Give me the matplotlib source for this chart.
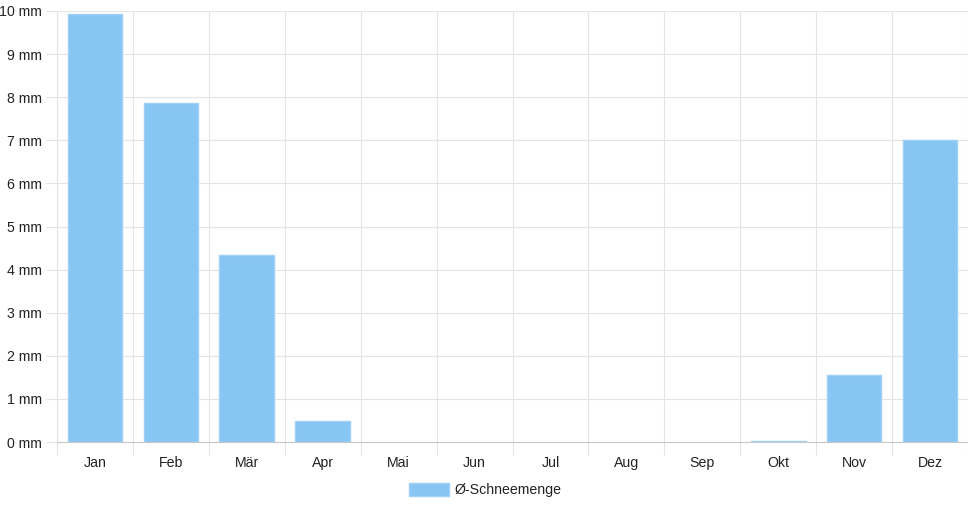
import numpy as np
import matplotlib
matplotlib.use('Agg')
import matplotlib.pyplot as plt
from matplotlib.ticker import FixedLocator

# data
months = ['Jan','Feb','Mär','Apr','Mai','Jun','Jul','Aug','Sep','Okt','Nov','Dez']
snow_mm = [9.93, 7.87, 4.34, 0.49, 0.0, 0.0, 0.0, 0.0, 0.0, 0.02, 1.56, 7.0]
yticks = [0, 1, 2, 3, 4, 5, 6, 7, 8, 9, 10]
series_label = 'Ø-Schneemenge'

plt.rcParams['font.family'] = ['Liberation Sans', 'DejaVu Sans']
fig = plt.figure(figsize=(9.68, 5.08), dpi=100)
W, H = 968, 508
ax = fig.add_axes([57/W, (H-442)/H, (968-57)/W, (442-11)/H])

gridc = '#e4e4e4'
x = np.arange(len(months))
bars = ax.bar(x, snow_mm, width=0.72, color='#87c6f2', edgecolor='#9fd0f5', linewidth=1.0,
              label=series_label, zorder=3)
# empty months: no outline, as in the reference
for b, v in zip(bars, snow_mm):
    if v == 0:
        b.set_linewidth(0)

ax.set_xlim(-0.5, len(months)-0.5)
ax.set_ylim(0, 10)
ax.set_yticks(yticks)
ax.set_yticklabels(['%d mm' % v for v in yticks])
ax.set_xticks(x)
ax.set_xticklabels(months)
ax.xaxis.set_minor_locator(FixedLocator(np.arange(-0.5, len(months), 1.0)))

ax.tick_params(axis='x', which='major', length=0, pad=10, labelsize=10.2, colors='#222222')
ax.tick_params(axis='x', which='minor', length=9, width=0.8, color=gridc)
ax.tick_params(axis='y', which='major', length=8, width=0.8, color=gridc, pad=3,
               labelsize=10.2, labelcolor='#222222')
ax.grid(True, which='minor', axis='x', color=gridc, linewidth=0.8, zorder=0)
ax.grid(True, which='major', axis='y', color=gridc, linewidth=0.8, zorder=0)

for s in ['top', 'right']:
    ax.spines[s].set_visible(False)
ax.spines['left'].set_color(gridc)
ax.spines['bottom'].set_color('#c8c8c8')
ax.spines['left'].set_linewidth(0.8)
ax.spines['bottom'].set_linewidth(0.8)

leg = fig.legend(loc='center', bbox_to_anchor=(485/W, (H-490)/H), frameon=False,
                 fontsize=10.2, handlelength=2.8, handleheight=1.0, handletextpad=0.4)
for t in leg.get_texts():
    t.set_color('#222222')

fig.savefig('out.png', dpi=100)
